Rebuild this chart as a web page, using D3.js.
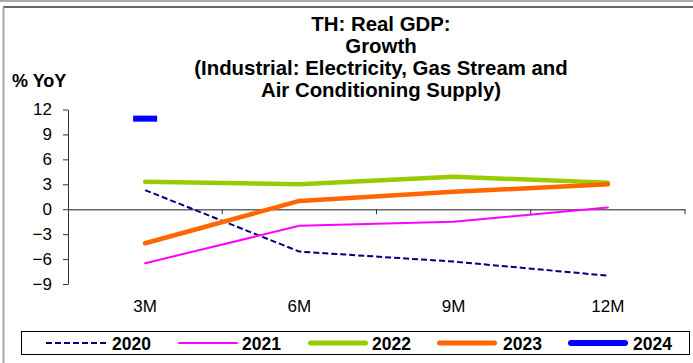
<!DOCTYPE html>
<html><head><meta charset="utf-8">
<script src="https://cdn.jsdelivr.net/npm/d3@7"></script>
<style>body{margin:0;background:#fff}svg{display:block;font-family:"Liberation Sans",Arial,sans-serif}</style>
</head><body><svg id="c" width="693" height="363"></svg>
<script>
const categories = ["3M","6M","9M","12M"];
const s2020 = [2.3,-5.1,-6.3,-8.0];
const s2021 = [-6.5,-2.0,-1.5,0.2];
const s2022 = [3.3,3.0,3.9,3.2];
const s2023 = [-4.1,1.0,2.1,3.0];
const s2024 = [10.9,null,null,null];
const yTicks = [12,9,6,3,0,-3,-6,-9];
const titleLines = ["TH: Real GDP:","Growth","(Industrial: Electricity, Gas Stream and","Air Conditioning Supply)"];

const series = [
  {name:"2020", values:s2020, color:"#000080", width:2, lw:2, dash:"6,3"},
  {name:"2021", values:s2021, color:"#ff00ff", width:2, lw:2, dash:null},
  {name:"2022", values:s2022, color:"#99cc00", width:4.5, lw:5, dash:null},
  {name:"2023", values:s2023, color:"#ff6600", width:4.5, lw:5, dash:null},
  {name:"2024", values:s2024, color:"#0000ff", width:5, lw:6, dash:null}
];

const svg = d3.select("#c");
// frame
svg.append("rect").attr("x",0).attr("y",0).attr("width",693).attr("height",2).attr("fill","#aaa");
svg.append("line").attr("x1",3).attr("x2",693).attr("y1",7).attr("y2",7).attr("stroke","#333").attr("stroke-width",1.5);
svg.append("line").attr("x1",3.5).attr("x2",3.5).attr("y1",7).attr("y2",363).attr("stroke","#aaa").attr("stroke-width",2);

const x = d3.scaleBand().domain(categories).range([68,685]);
const y = d3.scaleLinear().domain([-9,12]).range([284,109.5]);

// title
const t = svg.append("text").attr("text-anchor","middle").attr("font-weight","bold").attr("font-size",20.4).attr("fill","#000");
const ty=[31,53,75,97];
titleLines.forEach((l,i)=>t.append("tspan").attr("x",381).attr("y",ty[i]).text(l));
svg.append("text").attr("x",12).attr("y",87).attr("font-weight","bold").attr("font-size",18).text("% YoY");

// y axis
const ya = svg.append("g").attr("transform","translate(68,0)")
  .call(d3.axisLeft(y).tickValues(yTicks).tickSize(5).tickSizeOuter(0).tickFormat(d3.format("d")));
ya.select(".domain").attr("stroke","#333");
ya.selectAll(".tick line").attr("stroke","#333");
ya.selectAll("text").attr("font-size",17).attr("fill","#000").attr("x",-16).attr("font-family","Liberation Sans,Arial,sans-serif");

// x axis at 0
const xa = svg.append("g").attr("transform",`translate(0,${y(0)})`)
  .call(d3.axisBottom(x).tickSize(5).tickSizeOuter(0).tickFormat(""));
xa.select(".domain").attr("stroke","#666").attr("stroke-width",1.5);
xa.selectAll(".tick").remove();
x.domain().forEach((c,i)=>{
  const xx = x(c)+x.bandwidth();
  svg.append("line").attr("x1",xx).attr("x2",xx).attr("y1",y(0)).attr("y2",y(0)+5).attr("stroke","#333");
});
svg.append("g").selectAll("text").data(categories).join("text")
  .attr("x",d=>x(d)+x.bandwidth()/2).attr("y",312).attr("text-anchor","middle")
  .attr("font-size",17).text(d=>d);

// lines
const line = d3.line().defined(d=>d.v!=null).x(d=>x(d.c)+x.bandwidth()/2).y(d=>y(d.v));
series.forEach(s=>{
  const pts = s.values.map((v,i)=>({c:categories[i],v}));
  const valid = pts.filter(p=>p.v!=null);
  if(valid.length>1){
    svg.append("path").attr("d",line(pts)).attr("fill","none").attr("stroke",s.color)
      .attr("stroke-width",s.width).attr("stroke-dasharray",s.dash).attr("stroke-linejoin","round").attr("stroke-linecap",s.dash?"butt":"round");
  } else {
    valid.forEach(p=>{
      svg.append("rect").attr("x",x(p.c)+x.bandwidth()/2-12).attr("y",y(p.v)-3).attr("width",24).attr("height",6).attr("fill",s.color);
    });
  }
});

// legend
svg.append("rect").attr("x",21.5).attr("y",331.5).attr("width",668).attr("height",23).attr("fill","#fff").attr("stroke","#000");
const lx=[46,178,308,437,568];
const tx=[112,242,372,503,633];
series.forEach((s,i)=>{
  const pad = s.dash?0:s.lw/2;
  svg.append("line").attr("x1",lx[i]+pad).attr("x2",lx[i]+60-pad).attr("y1",343).attr("y2",343)
    .attr("stroke",s.color).attr("stroke-width",s.lw).attr("stroke-dasharray",s.dash).attr("stroke-linecap",s.dash?"butt":"round");
  svg.append("text").attr("x",tx[i]).attr("y",350).attr("font-weight","bold").attr("font-size",17.5).text(s.name);
});
</script></body></html>
